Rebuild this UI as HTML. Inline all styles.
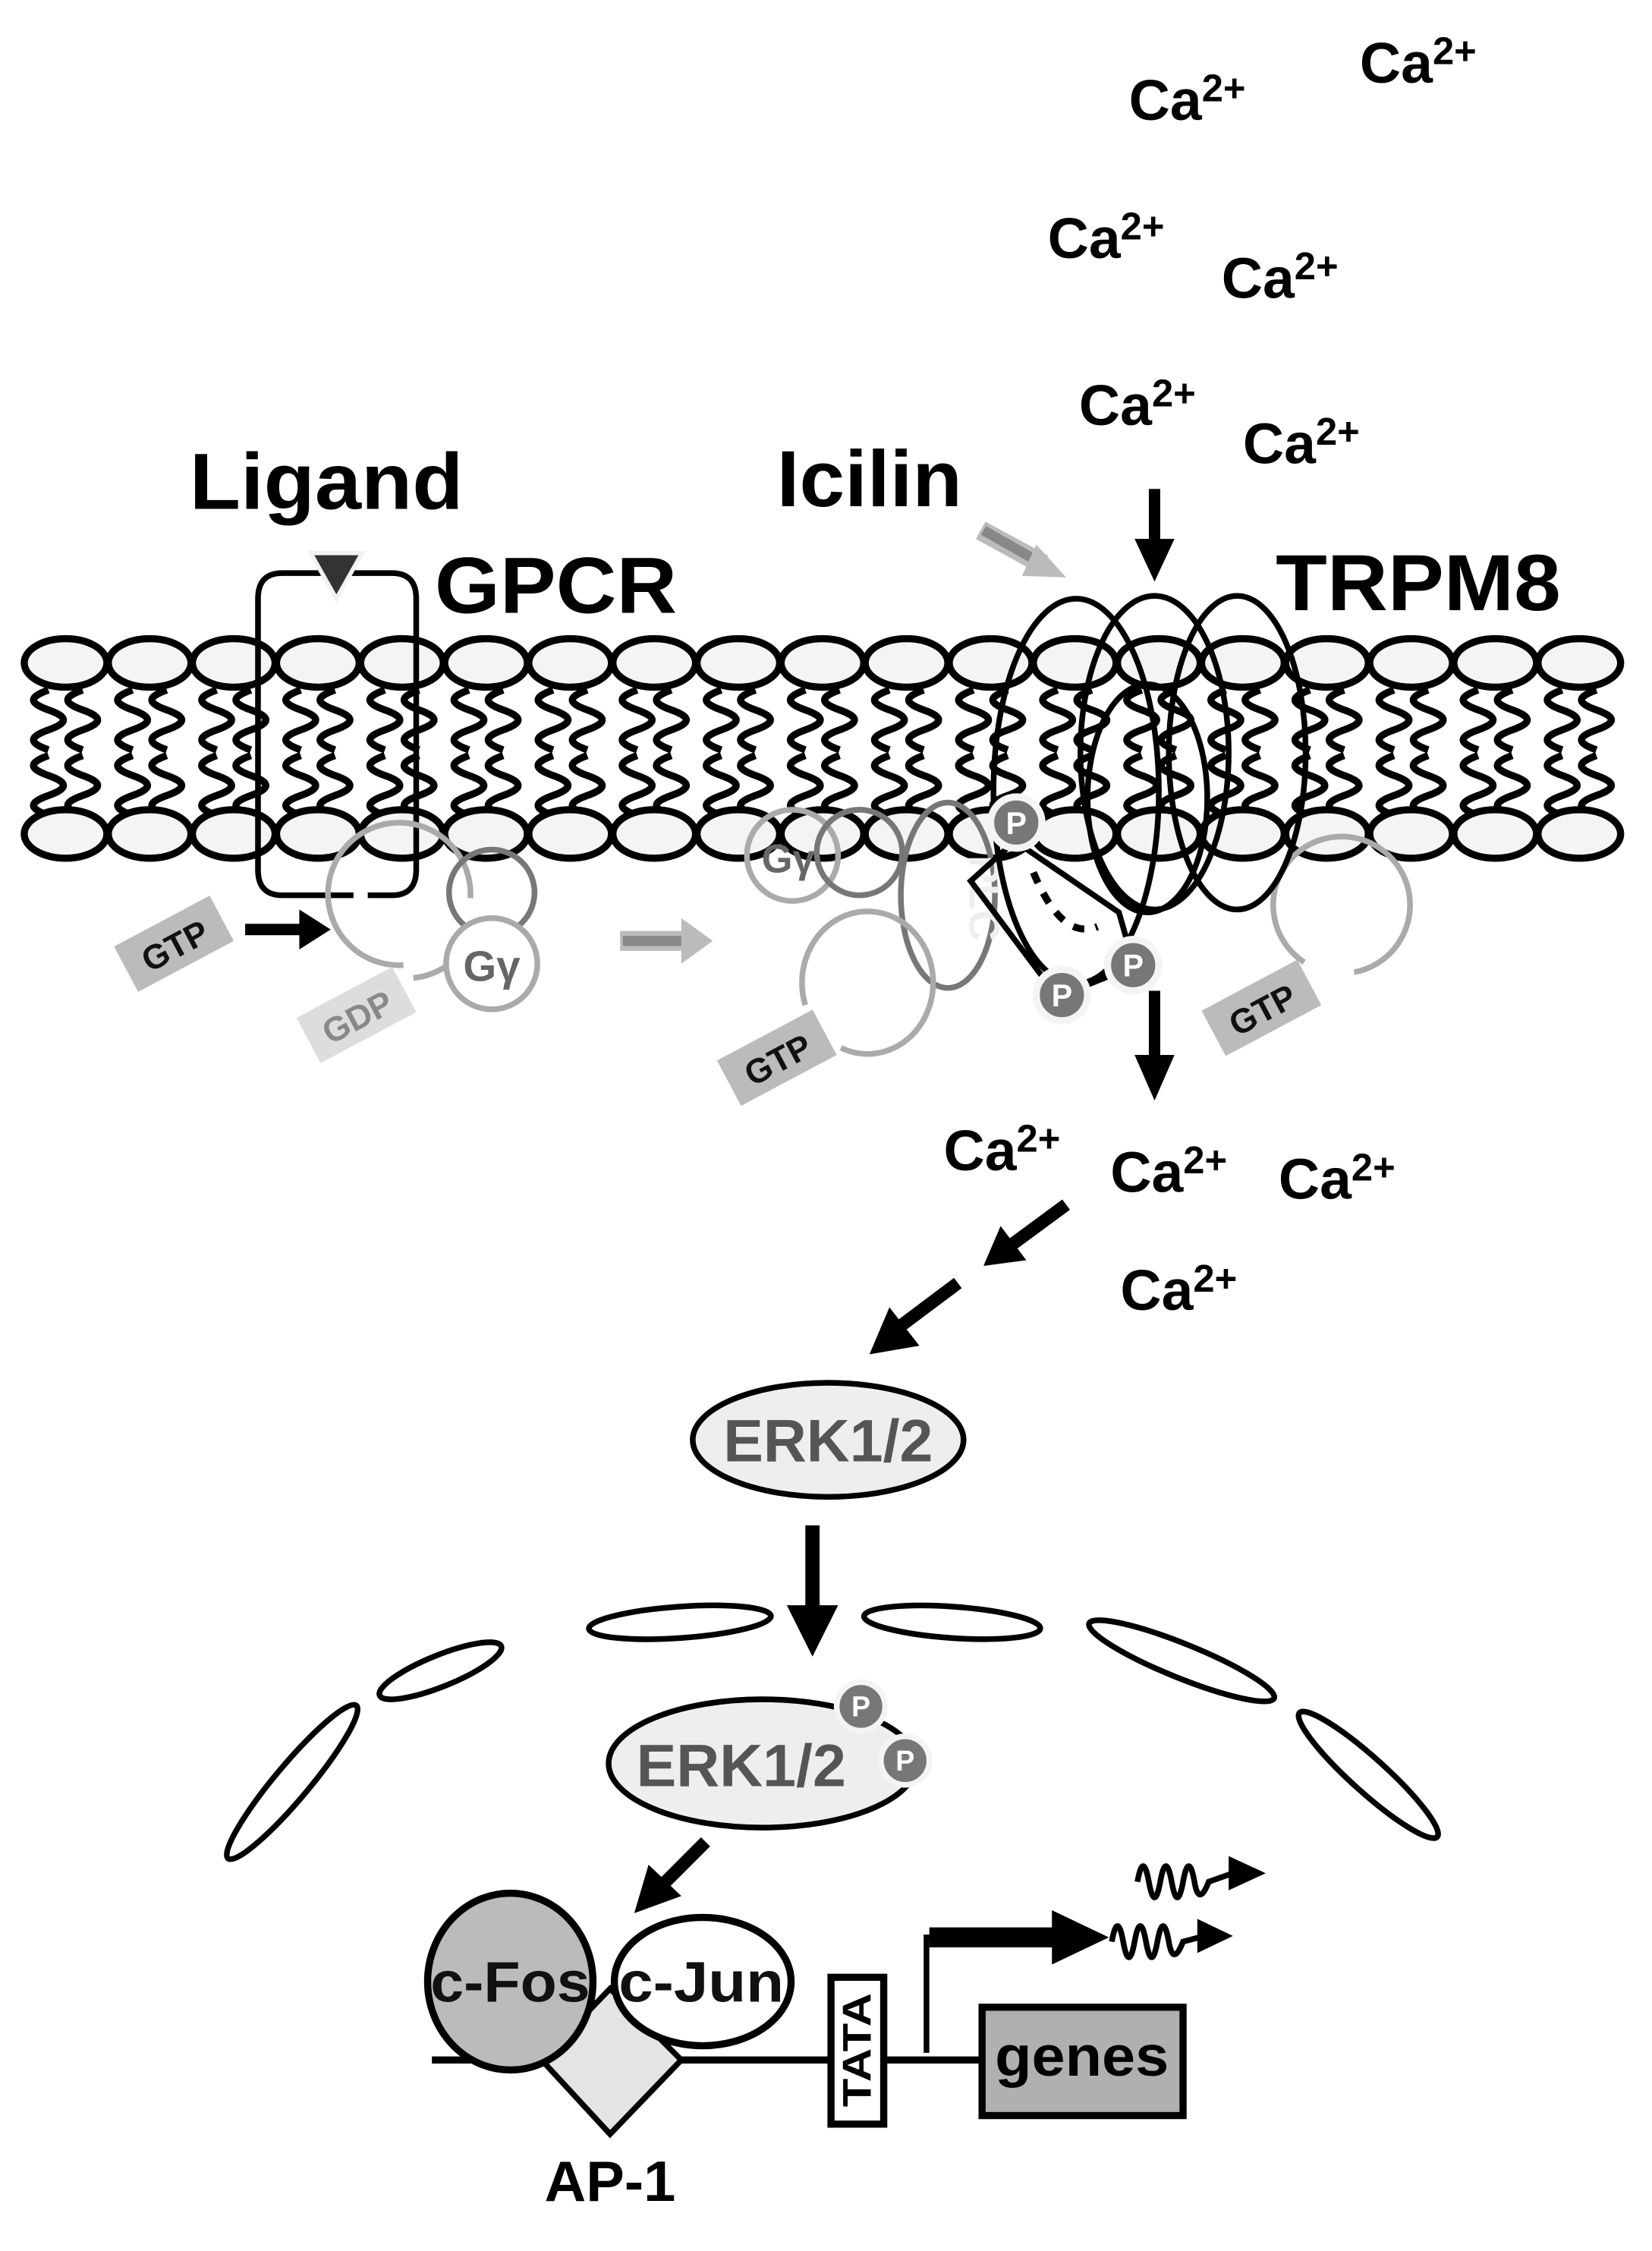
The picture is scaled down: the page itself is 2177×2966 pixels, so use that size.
<!DOCTYPE html>
<html><head><meta charset="utf-8"><style>
html,body{margin:0;padding:0;background:#fff}
svg{display:block}
text{font-family:"Liberation Sans",Arial,sans-serif;font-weight:bold}
</style></head><body>
<svg width="2177" height="2966" viewBox="0 0 1159 1579" preserveAspectRatio="none" xmlns="http://www.w3.org/2000/svg">
<defs>
<g id="lip">
<path d="M-12 484 c-14 5 -14 9 0 14 c14 5 14 9 0 14 c-14 5 -14 9 0 14 M12 484 c-14 5 -14 9 0 14 c14 5 14 9 0 14 c-14 5 -14 9 0 14 M-12 530 c-14 5 -14 9 0 14 c14 5 14 9 0 14 c-14 5 -14 9 0 14 M12 530 c-14 5 -14 9 0 14 c14 5 14 9 0 14 c-14 5 -14 9 0 14" fill="none" stroke="#000" stroke-width="5"/>
<ellipse cx="0" cy="465" rx="29" ry="17" fill="#f4f4f4" stroke="#000" stroke-width="5"/>
<ellipse cx="0" cy="585" rx="29" ry="17" fill="#f4f4f4" stroke="#000" stroke-width="5"/>
</g>
</defs>

<!-- Ca labels -->
<g font-size="40">
<text x="792" y="84">Ca<tspan font-size="27" dy="-13">2+</tspan></text>
<text x="954" y="58">Ca<tspan font-size="27" dy="-13">2+</tspan></text>
<text x="735" y="181">Ca<tspan font-size="27" dy="-13">2+</tspan></text>
<text x="857" y="209">Ca<tspan font-size="27" dy="-13">2+</tspan></text>
<text x="757" y="298">Ca<tspan font-size="27" dy="-13">2+</tspan></text>
<text x="872" y="325">Ca<tspan font-size="27" dy="-13">2+</tspan></text>
<text x="662" y="821">Ca<tspan font-size="27" dy="-13">2+</tspan></text>
<text x="779" y="836">Ca<tspan font-size="27" dy="-13">2+</tspan></text>
<text x="897" y="841">Ca<tspan font-size="27" dy="-13">2+</tspan></text>
<text x="786" y="919">Ca<tspan font-size="27" dy="-13">2+</tspan></text>
</g>
<text x="133" y="357" font-size="56" textLength="192" lengthAdjust="spacingAndGlyphs">Ligand</text>
<text x="545" y="355" font-size="56" textLength="130" lengthAdjust="spacingAndGlyphs">Icilin</text>
<text x="305" y="430" font-size="56" textLength="170" lengthAdjust="spacingAndGlyphs">GPCR</text>
<text x="895" y="428" font-size="56" textLength="200" lengthAdjust="spacingAndGlyphs">TRPM8</text>

<!-- membrane -->
<g>
<use href="#lip" x="46"/><use href="#lip" x="105"/><use href="#lip" x="164"/><use href="#lip" x="223"/><use href="#lip" x="282"/><use href="#lip" x="341"/><use href="#lip" x="400"/><use href="#lip" x="459"/><use href="#lip" x="518"/><use href="#lip" x="577"/><use href="#lip" x="636"/><use href="#lip" x="695"/><use href="#lip" x="754"/><use href="#lip" x="813"/><use href="#lip" x="872"/><use href="#lip" x="931"/><use href="#lip" x="990"/><use href="#lip" x="1049"/><use href="#lip" x="1108"/>
</g>

<!-- GPCR -->
<path d="M200 402 H275 Q292 402 292 420 V610 Q292 628 275 628 H258 M248 628 H198 Q181 628 181 610 V420 Q181 402 198 402 H205" fill="none" stroke="#000" stroke-width="4"/>
<path d="M218 388 L254 388 L236 420 Z" fill="#333" stroke="#f2f2f2" stroke-width="3"/>
<path d="M283 677 A50 50 0 1 1 330 630 M326 665 A50 50 0 0 1 290 686" fill="none" stroke="#aaa" stroke-width="4"/>
<circle cx="345" cy="626" r="30" fill="none" stroke="#777" stroke-width="4"/>
<circle cx="345" cy="676" r="32" fill="#fff" stroke="#aaa" stroke-width="4"/>
<text x="345" y="688" font-size="30" fill="#666" text-anchor="middle">Gγ</text>
<g transform="translate(122,662) rotate(-28)"><rect x="-38" y="-18" width="76" height="36" fill="#bbb"/><text x="0" y="10" font-size="24" text-anchor="middle" fill="#111">GTP</text></g>
<g transform="translate(250,712) rotate(-28)"><rect x="-38" y="-18" width="76" height="36" fill="#ddd"/><text x="0" y="10" font-size="24" text-anchor="middle" fill="#888">GDP</text></g>
<line x1="172" y1="652" x2="212" y2="652" stroke="#000" stroke-width="8"/><path d="M210 638 L232 652 L210 666Z" fill="#000"/>
<line x1="435" y1="660" x2="480" y2="660" stroke="#bbb" stroke-width="14"/><line x1="437" y1="660" x2="480" y2="660" stroke="#888" stroke-width="7"/><path d="M478 644 L500 660 L478 676Z" fill="#bbb"/>
<line x1="688" y1="372" x2="732" y2="396" stroke="#bbb" stroke-width="14"/><line x1="690" y1="372" x2="732" y2="396" stroke="#888" stroke-width="7"/><path d="M727 382 L748 405 L717 404Z" fill="#bbb"/>
<line x1="810" y1="343" x2="810" y2="380" stroke="#000" stroke-width="8"/><path d="M796 378 L824 378 L810 408Z" fill="#000"/>

<!-- middle G/PLC -->
<circle cx="556" cy="600" r="32" fill="none" stroke="#aaa" stroke-width="4"/>
<text x="553" y="612" font-size="28" fill="#666" text-anchor="middle">Gγ</text>
<circle cx="603" cy="598" r="30" fill="none" stroke="#777" stroke-width="4"/>
<ellipse cx="665" cy="628" rx="33" ry="65" fill="none" stroke="#777" stroke-width="4"/>
<text x="665" y="615" font-size="30" fill="#eee" text-anchor="middle" transform="rotate(90 665 630)">PLC</text>
<path d="M590 735 A46 50 0 1 0 565 705" fill="none" stroke="#aaa" stroke-width="4"/>
<g transform="translate(545,742) rotate(-28)"><rect x="-38" y="-18" width="76" height="36" fill="#bbb"/><text x="0" y="10" font-size="24" text-anchor="middle" fill="#111">GTP</text></g>
<path d="M915 675 A48 48 0 1 1 950 682" fill="none" stroke="#aaa" stroke-width="4"/>
<g transform="translate(885,707) rotate(-28)"><rect x="-38" y="-18" width="76" height="36" fill="#bbb"/><text x="0" y="10" font-size="24" text-anchor="middle" fill="#111">GTP</text></g>

<!-- TRPM8 -->
<g fill="none" stroke="#000" stroke-width="4">
<ellipse cx="755" cy="555" rx="58" ry="135"/>
<ellipse cx="810" cy="528" rx="52" ry="110"/>
<ellipse cx="868" cy="528" rx="48" ry="110"/>
<ellipse cx="805" cy="560" rx="42" ry="80"/>
<path d="M712 590 L681 618 L735 690"/>
<path d="M712 590 L785 640 L795 675"/>
<path d="M745 698 L790 680" />
</g>
<path d="M725 612 Q745 660 770 650" fill="none" stroke="#000" stroke-width="5" stroke-dasharray="8 8"/>
<g font-size="22" text-anchor="middle">
<circle cx="713" cy="577" r="18" fill="#777" stroke="#f4f4f4" stroke-width="5"/><text x="713" y="585" fill="#fff">P</text>
<circle cx="795" cy="677" r="18" fill="#777" stroke="#f4f4f4" stroke-width="5"/><text x="795" y="685" fill="#fff">P</text>
<circle cx="745" cy="698" r="18" fill="#777" stroke="#f4f4f4" stroke-width="5"/><text x="745" y="706" fill="#fff">P</text>
</g>
<line x1="810" y1="695" x2="810" y2="742" stroke="#000" stroke-width="8"/><path d="M796 740 L824 740 L810 772Z" fill="#000"/>
<line x1="748" y1="845" x2="710" y2="873" stroke="#000" stroke-width="9"/><path d="M702 860 L690 888 L720 884Z" fill="#000"/>
<line x1="672" y1="900" x2="632" y2="930" stroke="#000" stroke-width="9"/><path d="M624 917 L610 950 L645 944Z" fill="#000"/>

<!-- ERK -->
<ellipse cx="581" cy="1010" rx="95" ry="40" fill="#eee" stroke="#000" stroke-width="4"/>
<text x="581" y="1025" font-size="42" fill="#555" text-anchor="middle">ERK1/2</text>
<line x1="570" y1="1070" x2="570" y2="1128" stroke="#000" stroke-width="10"/><path d="M552 1126 L588 1126 L570 1162Z" fill="#000"/>
<g fill="none" stroke="#000" stroke-width="4">
<ellipse cx="477" cy="1138" rx="64" ry="11" transform="rotate(-4 477 1138)"/>
<ellipse cx="668" cy="1138" rx="62" ry="11" transform="rotate(4 668 1138)"/>
<ellipse cx="309" cy="1172" rx="46" ry="11" transform="rotate(-22 309 1172)"/>
<ellipse cx="829" cy="1165" rx="70" ry="12" transform="rotate(22 829 1165)"/>
<ellipse cx="205" cy="1250" rx="70" ry="12" transform="rotate(-50 205 1250)"/>
<ellipse cx="960" cy="1245" rx="65" ry="12" transform="rotate(42 960 1245)"/>
</g>
<ellipse cx="535" cy="1237" rx="108" ry="45" fill="#eee" stroke="#000" stroke-width="4"/>
<text x="520" y="1253" font-size="42" fill="#555" text-anchor="middle">ERK1/2</text>
<g font-size="20" text-anchor="middle">
<circle cx="604" cy="1197" r="17" fill="#777" stroke="#f4f4f4" stroke-width="4"/><text x="604" y="1204" fill="#fff">P</text>
<circle cx="635" cy="1235" r="17" fill="#777" stroke="#f4f4f4" stroke-width="4"/><text x="635" y="1242" fill="#fff">P</text>
</g>
<line x1="495" y1="1292" x2="465" y2="1322" stroke="#000" stroke-width="9"/><path d="M455 1308 L445 1342 L478 1330Z" fill="#000"/>

<!-- DNA -->
<line x1="303" y1="1445" x2="690" y2="1445" stroke="#000" stroke-width="5"/>
<path d="M428 1395 L478 1445 L428 1497 L380 1445Z" fill="#e4e4e4" stroke="#000" stroke-width="4"/>
<ellipse cx="358" cy="1390" rx="58" ry="62" fill="#bbb" stroke="#000" stroke-width="5"/>
<ellipse cx="493" cy="1390" rx="62" ry="45" fill="#fff" stroke="#000" stroke-width="5"/>
<text x="358" y="1404" font-size="40" fill="#111" text-anchor="middle" textLength="112" lengthAdjust="spacingAndGlyphs">c-Fos</text>
<text x="492" y="1404" font-size="40" fill="#111" text-anchor="middle" textLength="116" lengthAdjust="spacingAndGlyphs">c-Jun</text>
<rect x="583" y="1387" width="37" height="103" fill="#fff" stroke="#000" stroke-width="5"/>
<text x="0" y="0" font-size="28" text-anchor="middle" transform="translate(611 1438) rotate(-90)" textLength="80" lengthAdjust="spacingAndGlyphs">TATA</text>
<rect x="689" y="1408" width="141" height="76" fill="#b0b0b0" stroke="#000" stroke-width="5"/>
<text x="759" y="1456" font-size="40" text-anchor="middle" textLength="122" lengthAdjust="spacingAndGlyphs">genes</text>
<path d="M650 1440 V1359 H740" fill="none" stroke="#000" stroke-width="4"/>
<rect x="652" y="1352" width="90" height="14" fill="#000"/>
<path d="M738 1340 L778 1359 L738 1378Z" fill="#000"/>
<path d="M798 1320 q4 -22 8 0 q4 22 8 0 q4 -22 8 0 q4 22 8 0 q4 -22 8 0 q3 18 10 0 L865 1314" fill="none" stroke="#000" stroke-width="4"/>
<path d="M862 1302 L888 1314 L862 1326Z" fill="#000"/>
<path d="M780 1362 q4 -22 8 0 q4 22 8 0 q4 -22 8 0 q4 22 8 0 q4 -22 8 0 q3 18 10 0 L845 1358" fill="none" stroke="#000" stroke-width="4"/>
<path d="M840 1346 L865 1358 L840 1370Z" fill="#000"/>
<text x="428" y="1544" font-size="40" text-anchor="middle" textLength="92" lengthAdjust="spacingAndGlyphs">AP-1</text>
</svg>
</body></html>
